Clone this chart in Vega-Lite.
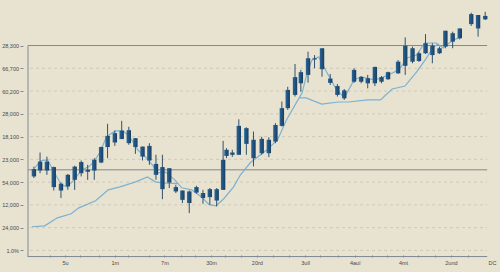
{
  "$schema": "https://vega.github.io/schema/vega-lite/v6.json",
  "width": 477,
  "height": 257,
  "autosize": {"type": "none"},
  "padding": {"left": 23, "top": 0, "right": 0, "bottom": 15},
  "background": "#e8e2d0",
  "config": {"view": {"stroke": null}, "axis": {"labelOverlap": false, "labelBound": false, "title": null, "grid": false, "domain": false}},
  "datasets": {
    "candles": [
      {"t": 0.86, "o": 42.5, "c": 45.7, "h": 46.8, "l": 41.8},
      {"t": 1.76, "o": 45.1, "c": 49.0, "h": 53.0, "l": 43.9},
      {"t": 2.76, "o": 49.0, "c": 45.1, "h": 51.2, "l": 43.2},
      {"t": 3.76, "o": 46.6, "c": 37.8, "h": 46.8, "l": 36.3},
      {"t": 4.81, "o": 39.3, "c": 36.3, "h": 39.8, "l": 33.0},
      {"t": 5.81, "o": 38.1, "c": 43.2, "h": 43.6, "l": 36.6},
      {"t": 6.81, "o": 41.0, "c": 46.8, "h": 47.2, "l": 36.6},
      {"t": 7.76, "o": 43.9, "c": 48.8, "h": 49.5, "l": 42.5},
      {"t": 8.71, "o": 45.4, "c": 44.5, "h": 47.6, "l": 41.0},
      {"t": 9.67, "o": 45.1, "c": 49.8, "h": 50.5, "l": 41.0},
      {"t": 10.67, "o": 48.6, "c": 55.4, "h": 55.6, "l": 48.3},
      {"t": 11.61, "o": 55.4, "c": 60.3, "h": 65.6, "l": 50.5},
      {"t": 12.67, "o": 57.4, "c": 61.5, "h": 62.6, "l": 55.9},
      {"t": 13.67, "o": 58.9, "c": 62.6, "h": 66.9, "l": 58.9},
      {"t": 14.71, "o": 62.8, "c": 57.1, "h": 64.3, "l": 56.4},
      {"t": 15.67, "o": 59.3, "c": 55.4, "h": 59.3, "l": 52.4},
      {"t": 16.71, "o": 55.6, "c": 51.2, "h": 55.6, "l": 49.5},
      {"t": 17.71, "o": 55.9, "c": 49.5, "h": 57.1, "l": 47.6},
      {"t": 18.67, "o": 48.0, "c": 43.2, "h": 52.0, "l": 41.0},
      {"t": 19.61, "o": 46.6, "c": 36.9, "h": 52.0, "l": 32.5},
      {"t": 20.61, "o": 46.1, "c": 39.8, "h": 46.1, "l": 37.4},
      {"t": 21.57, "o": 37.8, "c": 35.9, "h": 38.8, "l": 35.2},
      {"t": 22.53, "o": 36.3, "c": 32.2, "h": 36.3, "l": 30.8},
      {"t": 23.53, "o": 35.9, "c": 30.8, "h": 36.3, "l": 26.4},
      {"t": 24.57, "o": 35.4, "c": 37.8, "h": 38.4, "l": 34.9},
      {"t": 25.53, "o": 35.2, "c": 33.0, "h": 36.6, "l": 30.5},
      {"t": 26.53, "o": 33.4, "c": 36.9, "h": 37.4, "l": 30.0},
      {"t": 27.53, "o": 31.9, "c": 36.9, "h": 37.4, "l": 29.3},
      {"t": 28.47, "o": 36.6, "c": 49.8, "h": 58.1, "l": 36.6},
      {"t": 28.96, "o": 51.5, "c": 54.2, "h": 54.9, "l": 50.5},
      {"t": 29.81, "o": 52.0, "c": 53.0, "h": 54.2, "l": 51.1},
      {"t": 30.76, "o": 52.0, "c": 64.7, "h": 67.6, "l": 52.0},
      {"t": 31.86, "o": 63.7, "c": 56.8, "h": 64.1, "l": 52.0},
      {"t": 32.9, "o": 58.6, "c": 50.5, "h": 62.2, "l": 46.9},
      {"t": 34.1, "o": 52.7, "c": 59.0, "h": 59.9, "l": 52.0},
      {"t": 35.14, "o": 58.6, "c": 52.7, "h": 59.7, "l": 51.0},
      {"t": 36.1, "o": 57.8, "c": 65.1, "h": 65.9, "l": 57.1},
      {"t": 37.04, "o": 64.7, "c": 72.5, "h": 75.4, "l": 64.4},
      {"t": 37.9, "o": 72.5, "c": 80.5, "h": 81.9, "l": 71.7},
      {"t": 38.96, "o": 78.3, "c": 86.1, "h": 91.9, "l": 77.6},
      {"t": 39.81, "o": 88.3, "c": 83.4, "h": 89.3, "l": 79.7},
      {"t": 40.86, "o": 87.1, "c": 94.4, "h": 97.3, "l": 83.7},
      {"t": 41.81, "o": 93.9, "c": 94.4, "h": 95.8, "l": 90.0},
      {"t": 42.9, "o": 89.6, "c": 98.8, "h": 98.8, "l": 86.3},
      {"t": 44.1, "o": 85.5, "c": 83.6, "h": 87.5, "l": 82.7},
      {"t": 45.14, "o": 82.2, "c": 78.3, "h": 83.1, "l": 77.6},
      {"t": 46.14, "o": 80.3, "c": 76.8, "h": 80.9, "l": 76.1},
      {"t": 47.57, "o": 84.1, "c": 89.3, "h": 90.0, "l": 83.6},
      {"t": 48.61, "o": 86.2, "c": 84.1, "h": 86.6, "l": 83.4},
      {"t": 49.57, "o": 85.6, "c": 83.4, "h": 87.1, "l": 81.2},
      {"t": 50.61, "o": 83.4, "c": 90.6, "h": 90.7, "l": 82.2},
      {"t": 51.57, "o": 86.1, "c": 84.1, "h": 86.6, "l": 83.4},
      {"t": 52.53, "o": 85.2, "c": 88.3, "h": 88.5, "l": 84.9},
      {"t": 54.0, "o": 87.8, "c": 92.9, "h": 93.6, "l": 87.5},
      {"t": 55.04, "o": 91.1, "c": 99.9, "h": 103.6, "l": 87.1},
      {"t": 56.1, "o": 98.8, "c": 92.9, "h": 99.5, "l": 92.2},
      {"t": 57.04, "o": 96.6, "c": 93.2, "h": 97.3, "l": 92.8},
      {"t": 58.0, "o": 96.6, "c": 101.0, "h": 105.0, "l": 96.3},
      {"t": 59.0, "o": 99.9, "c": 95.8, "h": 101.0, "l": 92.2},
      {"t": 60.04, "o": 96.6, "c": 98.8, "h": 99.5, "l": 96.3},
      {"t": 60.9, "o": 99.5, "c": 106.5, "h": 106.5, "l": 98.8},
      {"t": 61.96, "o": 105.4, "c": 101.7, "h": 106.1, "l": 98.8},
      {"t": 63.0, "o": 103.2, "c": 107.5, "h": 107.5, "l": 102.7},
      {"t": 64.67, "o": 109.4, "c": 113.8, "h": 114.4, "l": 108.6},
      {"t": 65.67, "o": 113.4, "c": 107.5, "h": 113.4, "l": 103.9},
      {"t": 66.71, "o": 111.5, "c": 113.0, "h": 114.8, "l": 111.2}
    ],
    "lines": [
      {"s": "fast", "t": 1.0, "p": 46.3},
      {"s": "fast", "t": 1.86, "p": 49.4},
      {"s": "fast", "t": 2.86, "p": 49.8},
      {"s": "fast", "t": 3.86, "p": 44.1},
      {"s": "fast", "t": 4.86, "p": 38.8},
      {"s": "fast", "t": 5.71, "p": 37.9},
      {"s": "fast", "t": 6.71, "p": 41.0},
      {"s": "fast", "t": 7.86, "p": 45.4},
      {"s": "fast", "t": 8.86, "p": 46.7},
      {"s": "fast", "t": 9.57, "p": 48.9},
      {"s": "fast", "t": 10.57, "p": 53.3},
      {"s": "fast", "t": 11.43, "p": 59.9},
      {"s": "fast", "t": 12.71, "p": 62.5},
      {"s": "fast", "t": 13.86, "p": 62.5},
      {"s": "fast", "t": 14.86, "p": 59.9},
      {"s": "fast", "t": 16.0, "p": 54.2},
      {"s": "fast", "t": 17.14, "p": 51.1},
      {"s": "fast", "t": 18.14, "p": 47.6},
      {"s": "fast", "t": 18.86, "p": 44.1},
      {"s": "fast", "t": 20.0, "p": 44.5},
      {"s": "fast", "t": 21.43, "p": 41.0},
      {"s": "fast", "t": 22.43, "p": 37.5},
      {"s": "fast", "t": 23.86, "p": 36.6},
      {"s": "fast", "t": 25.29, "p": 33.6},
      {"s": "fast", "t": 26.43, "p": 30.1},
      {"s": "fast", "t": 27.43, "p": 29.6},
      {"s": "fast", "t": 28.57, "p": 32.7},
      {"s": "fast", "t": 30.0, "p": 37.9},
      {"s": "fast", "t": 31.0, "p": 43.2},
      {"s": "fast", "t": 32.43, "p": 48.5},
      {"s": "fast", "t": 34.86, "p": 54.2},
      {"s": "fast", "t": 36.43, "p": 58.6},
      {"s": "fast", "t": 37.71, "p": 67.3},
      {"s": "fast", "t": 39.14, "p": 74.8},
      {"s": "fast", "t": 40.0, "p": 79.2},
      {"s": "fast", "t": 40.71, "p": 87.9},
      {"s": "fast", "t": 41.43, "p": 93.6},
      {"s": "fast", "t": 42.43, "p": 95.0},
      {"s": "fast", "t": 43.57, "p": 88.4},
      {"s": "fast", "t": 44.86, "p": 81.4},
      {"s": "fast", "t": 46.14, "p": 77.0},
      {"s": "fast", "t": 47.57, "p": 84.9},
      {"s": "fast", "t": 48.57, "p": 86.2},
      {"s": "fast", "t": 50.57, "p": 84.9},
      {"s": "fast", "t": 51.57, "p": 85.8},
      {"s": "fast", "t": 52.86, "p": 87.5},
      {"s": "fast", "t": 54.14, "p": 89.3},
      {"s": "fast", "t": 55.29, "p": 94.5},
      {"s": "fast", "t": 56.71, "p": 95.8},
      {"s": "fast", "t": 57.86, "p": 101.1},
      {"s": "fast", "t": 59.57, "p": 101.1},
      {"s": "fast", "t": 60.57, "p": 98.9},
      {"s": "fast", "t": 62.0, "p": 102.4},
      {"s": "fast", "t": 63.14, "p": 103.7},
      {"s": "slow1", "t": 0.57, "p": 20.4},
      {"s": "slow1", "t": 2.43, "p": 20.8},
      {"s": "slow1", "t": 4.29, "p": 24.3},
      {"s": "slow1", "t": 6.29, "p": 26.1},
      {"s": "slow1", "t": 7.43, "p": 28.7},
      {"s": "slow1", "t": 9.86, "p": 31.8},
      {"s": "slow1", "t": 11.71, "p": 36.6},
      {"s": "slow1", "t": 13.43, "p": 37.9},
      {"s": "slow1", "t": 15.71, "p": 40.1},
      {"s": "slow1", "t": 17.43, "p": 42.3},
      {"s": "slow1", "t": 18.57, "p": 40.1},
      {"s": "slow1", "t": 19.57, "p": 39.7},
      {"s": "slow1", "t": 21.86, "p": 39.3},
      {"s": "slow2", "t": 39.57, "p": 77.0},
      {"s": "slow2", "t": 40.57, "p": 77.0},
      {"s": "slow2", "t": 42.86, "p": 74.3},
      {"s": "slow2", "t": 45.29, "p": 75.2},
      {"s": "slow2", "t": 46.71, "p": 75.2},
      {"s": "slow2", "t": 49.57, "p": 76.1},
      {"s": "slow2", "t": 51.43, "p": 76.1},
      {"s": "slow2", "t": 53.14, "p": 80.9},
      {"s": "slow2", "t": 55.0, "p": 82.2},
      {"s": "slow2", "t": 56.71, "p": 88.4},
      {"s": "slow2", "t": 58.14, "p": 94.5},
      {"s": "slow2", "t": 59.14, "p": 99.4},
      {"s": "slow2", "t": 59.86, "p": 100.7}
    ],
    "grid": [
      {"p": 10}, {"p": 20}, {"p": 30}, {"p": 40}, {"p": 50},
      {"p": 60}, {"p": 70}, {"p": 80}, {"p": 90}
    ],
    "refs": [
      {"p": 100}, {"p": 45.4}
    ]
  },
  "layer": [
    {
      "data": {"name": "grid"},
      "mark": {"type": "rule", "color": "#c9c3b1", "strokeWidth": 0.8, "strokeDash": [3, 3]},
      "encoding": {
        "x": {"datum": 0.3, "type": "quantitative", "scale": {"domain": [0, 68.14], "nice": false, "zero": false},
          "axis": {
            "title": null, "domain": false, "grid": false, "tickCount": 200,
            "values": [3.14, 5.39, 7.57, 10.29, 12.67, 14.57, 17.67, 19.9, 22.33, 24.43, 26.71, 28.71, 31.1, 33.39, 35.76, 38.14, 40.43, 42.67, 45.19, 47.67, 50.14, 52.43, 54.71, 56.96, 59.33, 61.71, 64.24, 67.71],
            "labelExpr": "datum.value == 5.39 ? '5u' : datum.value == 12.67 ? '1m' : datum.value == 19.9 ? '7m' : datum.value == 26.71 ? '30m' : datum.value == 33.39 ? '20rd' : datum.value == 40.43 ? '3ull' : datum.value == 47.67 ? '4aul' : datum.value == 54.71 ? '4mt' : datum.value == 61.71 ? '2und' : datum.value == 67.71 ? 'DC' : ''",
            "tickSize": -2, "tickColor": {"condition": {"test": "datum.value > 67", "value": "transparent"}, "value": "#7e8a92"},
            "labelPadding": 5, "labelFont": "Liberation Sans Narrow, Liberation Sans", "labelFontSize": 5.5,
            "labelColor": "#4a4a4a", "labelOverlap": false, "labelFlush": false, "labelBound": false
          }
        },
        "x2": {"datum": 67},
        "y": {"field": "p", "type": "quantitative", "scale": {"domain": [7.1, 120], "nice": false, "zero": false},
          "axis": {
            "title": null, "domain": false, "grid": false, "tickCount": 200,
            "values": [10, 20, 30, 40, 50, 60, 70, 80, 90, 100],
            "labelExpr": "datum.value == 10 ? '1.0%' : datum.value == 20 ? '24,000' : datum.value == 30 ? '12,000' : datum.value == 40 ? '54,000' : datum.value == 50 ? '23,000' : datum.value == 60 ? '18,100' : datum.value == 70 ? '28,000' : datum.value == 80 ? '60,200' : datum.value == 90 ? '66,700' : '28,300'",
            "tickSize": 3, "tickColor": "#7e8a92", "labelPadding": 1.5,
            "labelFont": "Liberation Sans Narrow, Liberation Sans", "labelFontSize": 5.5, "labelColor": "#4a4a4a",
            "labelOverlap": false, "labelBound": false
          }
        }
      }
    },
    {
      "data": {"name": "refs"},
      "mark": {"type": "rule", "color": "#7e8a92", "strokeWidth": 1},
      "encoding": {
        "x": {"datum": 0, "type": "quantitative"},
        "x2": {"datum": 67},
        "y": {"field": "p", "type": "quantitative"}
      }
    },
    {
      "data": {"values": [{"k": 1}]},
      "mark": {"type": "rule", "color": "#7e8a92", "strokeWidth": 1},
      "encoding": {
        "x": {"datum": 0, "type": "quantitative"},
        "y": {"datum": 7.1, "type": "quantitative"},
        "y2": {"datum": 100}
      }
    },
    {
      "data": {"values": [{"k": 1}]},
      "mark": {"type": "rule", "color": "#7e8a92", "strokeWidth": 1},
      "encoding": {
        "x": {"datum": 0, "type": "quantitative"},
        "x2": {"datum": 67},
        "y": {"datum": 7.3, "type": "quantitative"}
      }
    },
    {
      "data": {"name": "lines"},
      "mark": {"type": "line", "color": "#7cb1d1", "strokeWidth": 1.2},
      "encoding": {
        "x": {"field": "t", "type": "quantitative"},
        "y": {"field": "p", "type": "quantitative"},
        "detail": {"field": "s"}
      }
    },
    {
      "data": {"name": "candles"},
      "mark": {"type": "rule", "color": "#35506b", "strokeWidth": 1},
      "encoding": {
        "x": {"field": "t", "type": "quantitative"},
        "y": {"field": "l", "type": "quantitative"},
        "y2": {"field": "h"}
      }
    },
    {
      "data": {"name": "candles"},
      "mark": {"type": "bar", "size": 4.4, "color": {"gradient": "linear", "x1": 0, "y1": 0, "x2": 1, "y2": 0, "stops": [{"offset": 0, "color": "#2b6596"}, {"offset": 1, "color": "#173e63"}]}},
      "encoding": {
        "x": {"field": "t", "type": "quantitative"},
        "y": {"field": "o", "type": "quantitative"},
        "y2": {"field": "c"}
      }
    }
  ]
}
